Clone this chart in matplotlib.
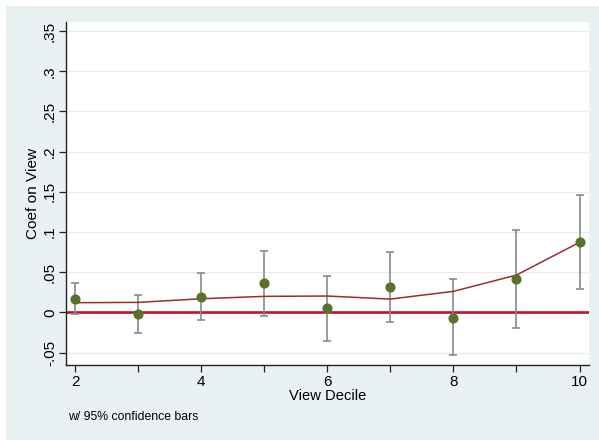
import matplotlib
matplotlib.use("Agg")
import matplotlib.pyplot as plt
from matplotlib.patches import Rectangle

# Data
deciles = [2, 3, 4, 5, 6, 7, 8, 9, 10]
coef = [0.0169, -0.0025, 0.0194, 0.0361, 0.0050, 0.0315, -0.0067, 0.0410, 0.0871]
ci_hi = [0.0364, 0.0219, 0.0489, 0.0766, 0.0451, 0.0746, 0.0410, 0.1020, 0.1459]
ci_lo = [-0.0025, -0.0257, -0.0092, -0.0046, -0.0353, -0.0117, -0.0535, -0.0199, 0.0286]
trend = [0.0120, 0.0124, 0.0169, 0.0199, 0.0203, 0.0165, 0.0261, 0.0464, 0.0871]
yticks = [-0.05, 0, 0.05, 0.1, 0.15, 0.2, 0.25, 0.3, 0.35]
ytick_labels = ["-.05", "0", ".05", ".1", ".15", ".2", ".25", ".3", ".35"]
xticks = [2, 3, 4, 5, 6, 7, 8, 9, 10]
xtick_labels = ["2", "", "4", "", "6", "", "8", "", "10"]

plt.rcParams['font.family'] = ['Liberation Sans', 'DejaVu Sans']

W, H = 599, 440
fig = plt.figure(figsize=(W / 100, H / 100), dpi=100, facecolor="white")
bg = "#EAF1F3"
fig.patches.append(Rectangle((6 / W, 0), 1 - 6 / W, 1 - 6 / H, transform=fig.transFigure,
                             facecolor=bg, edgecolor="none", zorder=-10))

ax = fig.add_axes([66 / W, (H - 365) / H, (589 - 66) / W, (365 - 22) / H])
ax.set_facecolor("white")

for y in yticks:
    ax.axhline(y, color="#E4EDF0", lw=1.0, zorder=0)

ax.axhline(0, color="#C8102E", lw=1.9, zorder=2)

yerr = [[c - l for c, l in zip(coef, ci_lo)], [h - c for c, h in zip(coef, ci_hi)]]
ax.errorbar(deciles, coef, yerr=yerr, fmt="none", ecolor="#8A8A8A", elinewidth=1.2,
            capsize=3.2, capthick=1.2, zorder=3)
ax.plot(deciles, trend, color="#9B2D30", lw=1.1, zorder=4)
ax.plot(deciles, coef, "o", color="#56722B", ms=6.3, mec="#56722B", zorder=5, linestyle="none")

ax.set_xlim(1.857, 10.15)
ax.set_ylim(-0.0655, 0.3612)
ax.set_xticks(xticks)
ax.set_xticklabels(xtick_labels)
ax.set_yticks(yticks)
ax.set_yticklabels(ytick_labels, rotation=90, va="center")

for s in ["top", "right"]:
    ax.spines[s].set_visible(False)
for s in ["left", "bottom"]:
    ax.spines[s].set_color("#222222")
    ax.spines[s].set_linewidth(1.0)

ax.tick_params(axis="both", direction="out", length=5, width=0.9, color="#222222",
               labelsize=11, labelcolor="black")
ax.tick_params(axis="x", pad=2.5)
ax.tick_params(axis="y", pad=1.5)

ax.set_xlabel("View Decile", fontsize=10.6, labelpad=0)
ax.set_ylabel("Coef on View", fontsize=11.1, labelpad=2)

fig.text(68 / W, 1 - 417 / H, "w/ 95% confidence bars", fontsize=8.8, va="center", ha="left")

fig.savefig("out.png", dpi=100, facecolor=fig.get_facecolor())
